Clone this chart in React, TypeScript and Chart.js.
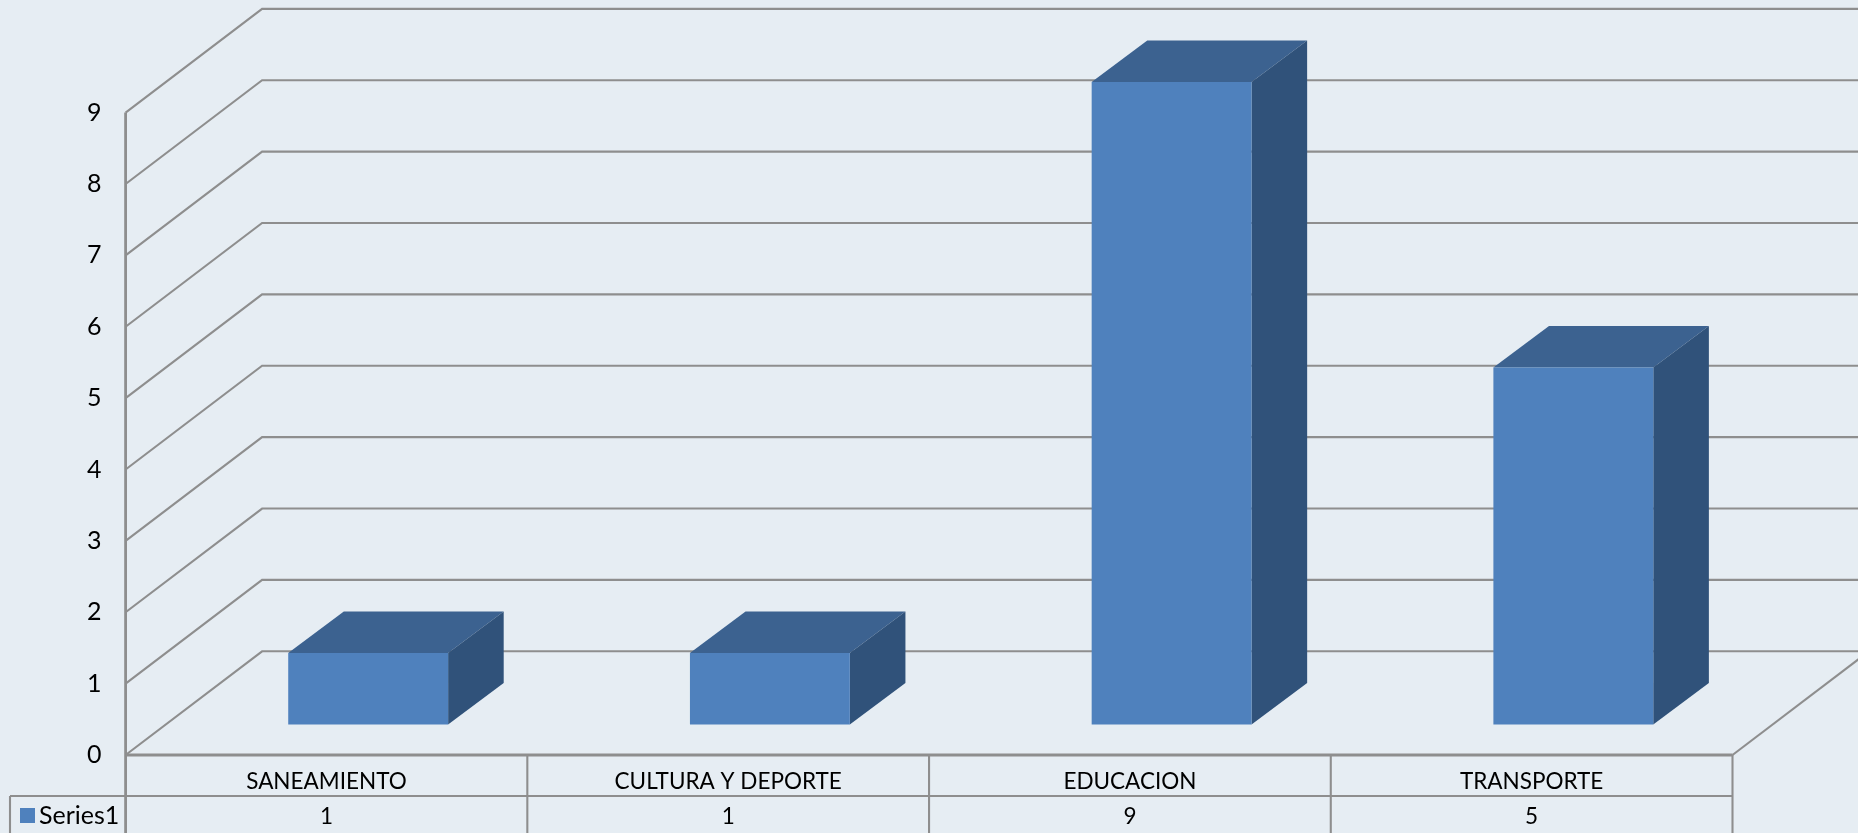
import React, { useEffect, useRef } from "react";
import { Chart, registerables } from "chart.js";

Chart.register(...registerables);

const categories = ["SANEAMIENTO", "CULTURA Y DEPORTE", "EDUCACION", "TRANSPORTE"];
const seriesName = "Series1";
const seriesValues = [1, 1, 9, 5];
const yMax = 9;

const WIDTH = 1858;
const HEIGHT = 833;
const PAGE_BG = "#E6EDF3";
const LINE = "#8E8E8E";
const FRONT = "#4F81BD";
const TOP = "#3C6290";
const SIDE = "#30527A";
const TEXT = "#000000";
const FONT = "Lato";
const WALL_DX = 136.5;
const WALL_DY = 103.7;
const BAR_SHIFT_X = 41.7;
const BAR_SHIFT_Y = 30.6;
const BAR_DX = 55.6;
const BAR_DY = 41.4;

function line(ctx: CanvasRenderingContext2D, pts: number[][], w: number) {
  ctx.beginPath();
  pts.forEach((p, i) => (i ? ctx.lineTo(p[0], p[1]) : ctx.moveTo(p[0], p[1])));
  ctx.lineWidth = w;
  ctx.strokeStyle = LINE;
  ctx.stroke();
}

function poly(ctx: CanvasRenderingContext2D, pts: number[][], fill: string) {
  ctx.beginPath();
  pts.forEach((p, i) => (i ? ctx.lineTo(p[0], p[1]) : ctx.moveTo(p[0], p[1])));
  ctx.closePath();
  ctx.fillStyle = fill;
  ctx.fill();
}

const frame3d = {
  id: "frame3d",
  beforeDatasetsDraw(chart: any) {
    const { ctx, scales } = chart;
    const { x, y } = scales;
    const left = x.left;
    const right = x.right;
    const floor = y.getPixelForValue(0);
    ctx.save();
    ctx.lineCap = "butt";
    ctx.lineJoin = "miter";
    for (let v = 0; v <= yMax; v++) {
      const py = y.getPixelForValue(v);
      line(ctx, [[left, py], [left + WALL_DX, py - WALL_DY], [chart.width, py - WALL_DY]], 2.1);
    }
    line(ctx, [[right, floor], [right + WALL_DX, floor - WALL_DY]], 2.1);
    line(ctx, [[left, y.getPixelForValue(yMax)], [left, floor]], 2.8);
    // data table
    const n = categories.length;
    const rowY = 796;
    line(ctx, [[10, rowY], [right, rowY]], 2.1);
    line(ctx, [[10, rowY], [10, chart.height]], 2.1);
    for (let i = 0; i <= n; i++) {
      const bx = left + (i * (right - left)) / n;
      line(ctx, [[bx, floor], [bx, chart.height]], i === 0 ? 2.8 : 2.1);
    }
    line(ctx, [[left, floor], [right, floor]], 3);
    // legend key and name of the table row
    const ds = chart.data.datasets[0];
    ctx.fillStyle = ds.backgroundColor;
    ctx.fillRect(20, 808, 15, 15);
    ctx.fillStyle = TEXT;
    ctx.font = `25px ${FONT}`;
    ctx.textAlign = "left";
    ctx.textBaseline = "middle";
    ctx.fillText(ds.label, 39, 816);
    ctx.restore();
  },
  beforeDatasetDraw(chart: any, args: any) {
    const { ctx } = chart;
    const meta = chart.getDatasetMeta(args.index);
    ctx.save();
    ctx.translate(BAR_SHIFT_X, -BAR_SHIFT_Y);
    meta.data.forEach((el: any) => {
      const { x, y, base, width } = el.getProps(["x", "y", "base", "width"], true);
      const l = x - width / 2;
      const r = x + width / 2;
      poly(ctx, [[l, y], [r, y], [r + BAR_DX, y - BAR_DY], [l + BAR_DX, y - BAR_DY]], TOP);
      poly(ctx, [[r, y], [r + BAR_DX, y - BAR_DY], [r + BAR_DX, base - BAR_DY], [r, base]], SIDE);
    });
  },
  afterDatasetDraw(chart: any) {
    chart.ctx.restore();
  },
};

export default function App() {
  const ref = useRef<HTMLCanvasElement>(null);
  useEffect(() => {
    document.body.style.margin = "0";
    document.body.style.background = PAGE_BG;
    document.body.style.overflow = "hidden";
    const chart = new Chart(ref.current as HTMLCanvasElement, {
      type: "bar",
      data: {
        labels: categories,
        datasets: [
          {
            label: seriesName,
            data: seriesValues,
            backgroundColor: FRONT,
            borderWidth: 0,
            barPercentage: 0.398,
            categoryPercentage: 1,
            clip: false,
          } as any,
        ],
      },
      plugins: [frame3d as any],
      options: {
        animation: false,
        responsive: false,
        layout: { padding: { top: 112.6, right: 125.5, left: 0, bottom: 0 } },
        plugins: { legend: { display: false }, tooltip: { enabled: false }, title: { display: false } },
        scales: {
          x: {
            grid: { display: false },
            border: { display: false },
            afterFit: (s: any) => {
              s.height = 78;
            },
            ticks: {
              color: TEXT,
              font: { family: FONT, size: 22.5, lineHeight: 34.4 / 22.5 },
              padding: 2,
              maxRotation: 0,
              autoSkip: false,
              callback: (_v: any, i: number) => [categories[i], String(seriesValues[i])],
            },
          },
          y: {
            min: 0,
            max: yMax,
            grid: { display: false },
            border: { display: false },
            afterFit: (s: any) => {
              s.width = 125.6;
            },
            ticks: {
              stepSize: 1,
              color: TEXT,
              font: { family: FONT, size: 25 },
              padding: 16,
            },
          },
        },
      },
    });
    return () => chart.destroy();
  }, []);
  return (
    <div style={{ position: "fixed", left: 0, top: 0, width: WIDTH, height: HEIGHT, background: PAGE_BG, overflow: "hidden" }}>
      <canvas ref={ref} width={WIDTH} height={HEIGHT} style={{ display: "block" }} />
    </div>
  );
}
